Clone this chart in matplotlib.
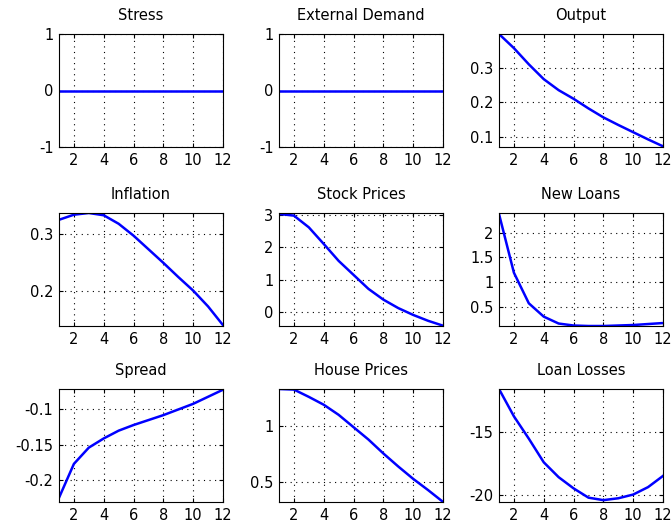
#!/usr/bin/env python3

import numpy as np
import matplotlib
matplotlib.use('Agg')
import matplotlib.pyplot as plt

plt.rcParams['font.family'] = ['DejaVu Sans']
plt.rcParams['font.size'] = 10.5

periods = np.arange(1, 13)

titles = ['Stress', 'External Demand', 'Output',
          'Inflation', 'Stock Prices', 'New Loans',
          'Spread', 'House Prices', 'Loan Losses']

stress = [0, 0, 0, 0, 0, 0, 0, 0, 0, 0, 0, 0]
external_demand = [0, 0, 0, 0, 0, 0, 0, 0, 0, 0, 0, 0]
output = [0.398, 0.357, 0.31, 0.267, 0.235, 0.21, 0.182, 0.156, 0.134, 0.113, 0.092, 0.072]
inflation = [0.325, 0.334, 0.337, 0.333, 0.318, 0.297, 0.273, 0.249, 0.224, 0.200, 0.172, 0.139]
stock_prices = [3.02, 2.97, 2.61, 2.1, 1.58, 1.15, 0.72, 0.39, 0.13, -0.08, -0.26, -0.41]
new_loans = [2.38, 1.19, 0.57, 0.3, 0.16, 0.12, 0.11, 0.11, 0.12, 0.13, 0.15, 0.17]
spread = [-0.225, -0.177, -0.154, -0.141, -0.130, -0.122, -0.115, -0.108, -0.100, -0.092, -0.082, -0.072]
house_prices = [1.33, 1.325, 1.26, 1.19, 1.1, 0.99, 0.88, 0.756, 0.64, 0.53, 0.43, 0.325]
loan_losses = [-11.5, -13.7, -15.5, -17.4, -18.6, -19.5, -20.25, -20.45, -20.3, -20.0, -19.4, -18.5]

series = [stress, external_demand, output, inflation, stock_prices,
          new_loans, spread, house_prices, loan_losses]

ylims = [(-1, 1), (-1, 1), (0.07, 0.398),
         (0.1375, 0.337), (-0.42, 3.05), (0.11, 2.40),
         (-0.231, -0.071), (0.324, 1.33), (-20.6, -11.5)]
yticks = [[-1, 0, 1], [-1, 0, 1], [0.1, 0.2, 0.3],
          [0.2, 0.3], [0, 1, 2, 3], [0.5, 1, 1.5, 2],
          [-0.2, -0.15, -0.1], [0.5, 1], [-20, -15]]
yticklabels = [['-1', '0', '1'], ['-1', '0', '1'], ['0.1', '0.2', '0.3'],
               ['0.2', '0.3'], ['0', '1', '2', '3'], ['0.5', '1', '1.5', '2'],
               ['-0.2', '-0.15', '-0.1'], ['0.5', '1'], ['-20', '-15']]

W, H = 672, 529
fig = plt.figure(figsize=(W / 100, H / 100), dpi=100)

lefts = [59, 279, 499]
tops = [34, 213, 389]
aw, ah = 164, 113

for i, (title, y) in enumerate(zip(titles, series)):
	r, c = divmod(i, 3)
	ax = fig.add_axes([lefts[c] / W, 1 - (tops[r] + ah) / H, aw / W, ah / H])
	ax.plot(periods, y, color='#0000ff', linewidth=1.8, zorder=2)
	ax.set_xlim(1, 12)
	ax.set_ylim(*ylims[i])
	ax.set_xticks([2, 4, 6, 8, 10, 12])
	ax.set_yticks(yticks[i])
	ax.set_yticklabels(yticklabels[i])
	ax.grid(True, color='black', linestyle=(0, (1, 4)), linewidth=0.8)
	ax.tick_params(direction='in', top=True, right=True, length=3,
	               labelsize=10.5, pad=4)
	for sp in ax.spines.values():
		sp.set_linewidth(0.8)
		sp.set_zorder(3)
	ax.set_title(title, fontsize=10.5, pad=10)

fig.savefig('out.png', dpi=100)
